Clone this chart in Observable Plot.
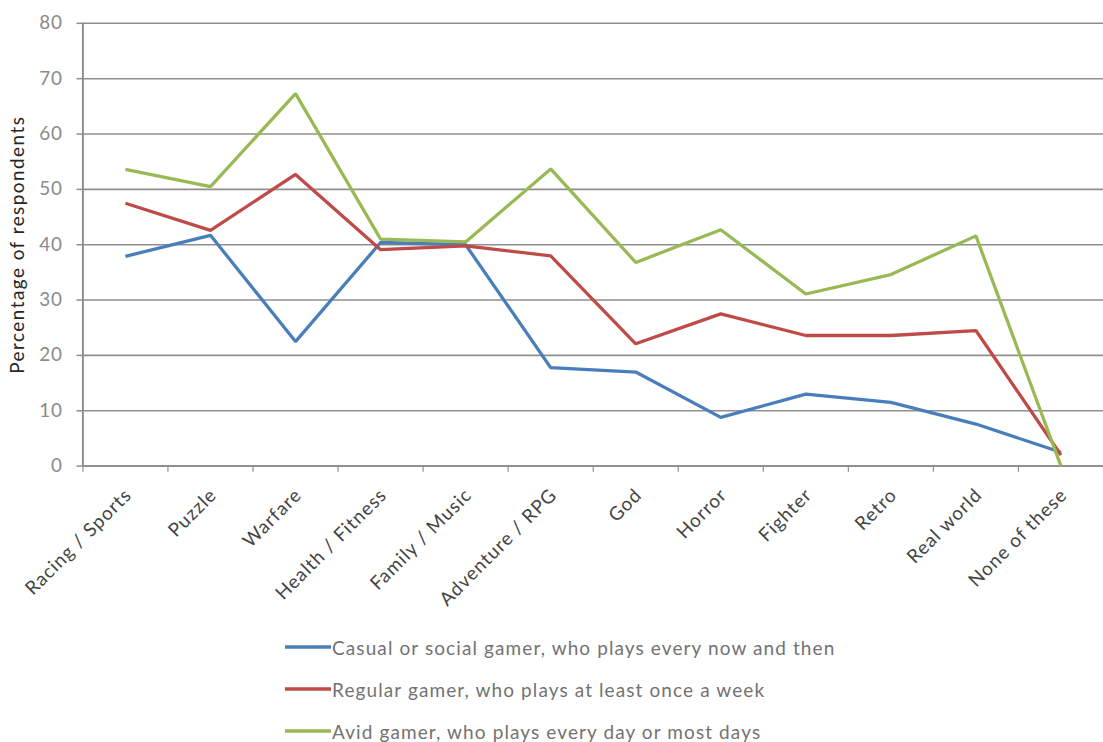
<!DOCTYPE html>
<html>
<head>
<meta charset="utf-8">
<script src="https://cdn.jsdelivr.net/npm/d3@7"></script>
<script src="https://cdn.jsdelivr.net/npm/@observablehq/plot@0.6"></script>
<style>
  html, body { margin: 0; padding: 0; background: #fff; overflow: hidden; width: 1103px; height: 742px; }
  #wrap { position: relative; width: 1103px; height: 742px; overflow: hidden; }
  #chart { position: absolute; left: 0; top: 0; }
  #legend { position: absolute; left: 285px; top: 626px; font-family: Lato, "Open Sans", sans-serif; font-size: 19px; letter-spacing: 1.1px; color: #737373; }
  .row { display: flex; align-items: center; height: 42px; white-space: nowrap; }
  .row svg { margin-right: 1px; }
</style>
</head>
<body>
<div id="wrap">
  <div id="chart"></div>
  <div id="legend"></div>
</div>
<script>
const categories = ["Racing / Sports", "Puzzle", "Warfare", "Health / Fitness", "Family / Music", "Adventure / RPG", "God", "Horror", "Fighter", "Retro", "Real world", "None of these"];
const casual  = [37.9, 41.7, 22.5, 40.4, 40.0, 17.8, 17.0, 8.8, 13.0, 11.5, 7.6, 2.5];
const regular = [47.5, 42.6, 52.7, 39.1, 39.8, 38.0, 22.1, 27.5, 23.6, 23.6, 24.5, 2.0];
const avid    = [53.6, 50.5, 67.3, 41.0, 40.5, 53.7, 36.8, 42.7, 31.1, 34.6, 41.6, 0.0];
const seriesNames = [
  "Casual or social gamer, who plays every now and then",
  "Regular gamer, who plays at least once a week",
  "Avid gamer, who plays every day or most days"
];
const seriesColors = ["#4a7ebb", "#be4b48", "#98b954"];
const yTicks = [0, 10, 20, 30, 40, 50, 60, 70, 80];
const yLabel = "Percentage of respondents";

const seriesValues = [casual, regular, avid];
const data = [];
seriesValues.forEach((vals, s) => vals.forEach((v, i) => data.push({series: seriesNames[s], i: i + 0.5, cat: categories[i], value: v})));
const catData = categories.map((c, i) => ({cat: c, i: i + 0.5}));
const boundaries = d3.range(0, categories.length + 1);

const font = "Lato, 'Open Sans', sans-serif";
const chart = Plot.plot({
  width: 1111,
  height: 600,
  marginLeft: 83,
  marginRight: 0,
  marginTop: 23,
  marginBottom: 131,
  style: {fontFamily: font, background: "#fff", overflow: "visible", letterSpacing: "1px"},
  x: {type: "linear", domain: [0, categories.length], axis: null},
  y: {type: "linear", domain: [0, 80], axis: null},
  color: {domain: seriesNames, range: seriesColors},
  marks: [
    Plot.ruleY(yTicks.filter(t => t > 0), {stroke: "#8f8f8f", strokeWidth: 1.6}),
    Plot.ruleX(boundaries, {x: d => d, y1: 0, y2: -1.1, stroke: "#8f8f8f", strokeWidth: 1.2}),
    Plot.ruleY([0], {stroke: "#8f8f8f", strokeWidth: 2}),
    Plot.ruleX([0], {y1: 0, y2: 80, stroke: "#8f8f8f", strokeWidth: 2}),
    Plot.axisY(yTicks, {tickSize: 6, tickPadding: 14, fontSize: 19, stroke: "#8f8f8f", fill: "#8a8a8a", strokeWidth: 1.5, label: null}),
    Plot.lineY(data, {x: "i", y: "value", stroke: "series", strokeWidth: 3.3, strokeLinejoin: "miter", strokeLinecap: "butt"}),
    Plot.text(catData, {x: "i", y: 0, text: "cat", rotate: -45, textAnchor: "end", dx: 3, dy: 26, fontSize: 19, fill: "#444"}),
    Plot.text([yLabel], {frameAnchor: "left", textAnchor: "middle", rotate: -90, dx: -65, fontSize: 19, fill: "#262626"})
  ]
});
d3.select(chart).selectAll("text").filter(function() { return this.textContent === yLabel; }).style("letter-spacing", "1.5px");
document.getElementById("chart").appendChild(chart);

const legend = document.getElementById("legend");
seriesNames.forEach((name, s) => {
  const row = document.createElement("div");
  row.className = "row";
  row.innerHTML = `<svg width="46" height="6"><line x1="0" y1="3" x2="46" y2="3" stroke="${seriesColors[s]}" stroke-width="3.3"/></svg><span>${name}</span>`;
  legend.appendChild(row);
});
</script>
</body>
</html>
